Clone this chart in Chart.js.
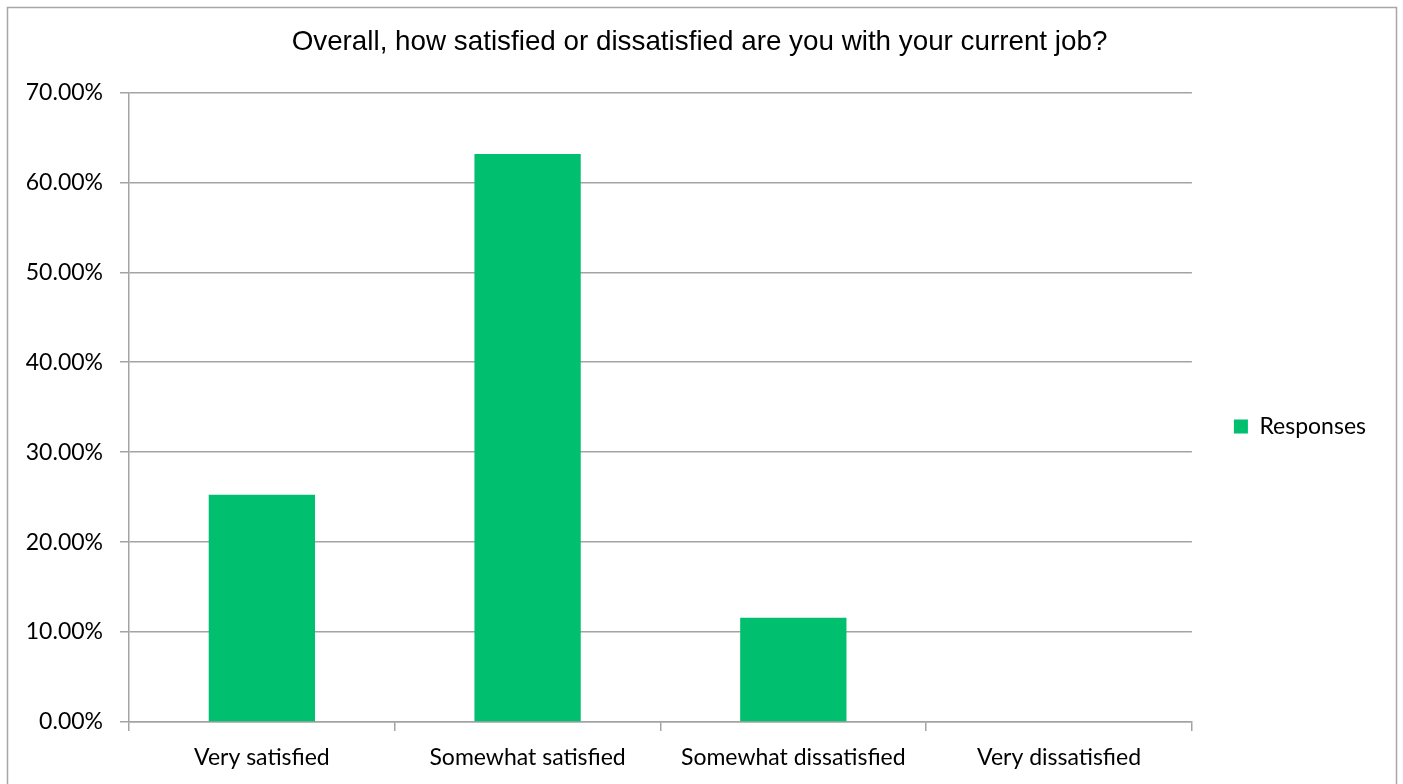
<!DOCTYPE html>
<html>
<head>
<meta charset="utf-8">
<script src="https://cdn.jsdelivr.net/npm/chart.js@4"></script>
<style>
  html, body { margin: 0; padding: 0; background: #ffffff; }
  #wrap { width: 1403px; height: 784px; position: relative; }
  canvas { display: block; }
</style>
</head>
<body>
<div id="wrap"><canvas id="chart" width="1403" height="784"></canvas></div>
<script>
// Survey question and answer categories
const chartTitle = 'Overall, how satisfied or dissatisfied are you with your current job?';
const categories = ['Very satisfied', 'Somewhat satisfied', 'Somewhat dissatisfied', 'Very dissatisfied'];
const seriesName = 'Responses';
// Share of responses, in percent
const responses = [25.26, 63.16, 11.58, 0];
// Value axis labels, one per 10% step
const yTickLabels = ['0.00%', '10.00%', '20.00%', '30.00%', '40.00%', '50.00%', '60.00%', '70.00%'];

const GRID = '#a3a3a3';
const BAR = '#00bf6f';
const BODY_FONT = 'Lato, "Open Sans", sans-serif';
const TITLE_FONT = '"Liberation Sans", Arial, sans-serif';

// White page with the thin grey outline around the whole chart
const framePlugin = {
  id: 'frame',
  beforeDraw(chart) {
    const ctx = chart.ctx;
    ctx.save();
    ctx.fillStyle = '#ffffff';
    ctx.fillRect(0, 0, chart.width, chart.height);
    ctx.strokeStyle = '#a6a6a6';
    ctx.lineWidth = 1.5;
    ctx.strokeRect(7.5, 7.5, 1389, 820);
    ctx.restore();
  }
};

new Chart(document.getElementById('chart'), {
  type: 'bar',
  data: {
    labels: categories,
    datasets: [{
      label: seriesName,
      data: responses,
      backgroundColor: BAR,
      borderWidth: 0,
      barPercentage: 0.4,
      categoryPercentage: 1.0
    }]
  },
  options: {
    responsive: false,
    animation: false,
    devicePixelRatio: 1,
    layout: { padding: { top: 0, left: 23, right: 27, bottom: 0 } },
    plugins: {
      title: {
        display: true,
        text: chartTitle,
        color: '#000000',
        font: { family: TITLE_FONT, size: 27.8, weight: 'normal', lineHeight: 1.2 },
        padding: { top: 26, bottom: 33 }
      },
      legend: {
        display: true,
        position: 'right',
        align: 'center',
        title: {
          display: true,
          text: ' ',
          font: { size: 10, lineHeight: 1.2 },
          padding: { top: 0, bottom: 57 }
        },
        labels: {
          boxWidth: 14,
          boxHeight: 14,
          padding: 42,
          color: '#000000',
          font: { family: BODY_FONT, size: 23 }
        }
      },
      tooltip: { enabled: false }
    },
    scales: {
      x: {
        grid: {
          display: true,
          drawOnChartArea: false,
          drawTicks: true,
          tickLength: 9,
          offset: true,
          color: GRID,
          lineWidth: 1.5
        },
        border: { display: true, color: GRID, width: 1.5 },
        ticks: {
          color: '#000000',
          font: { family: BODY_FONT, size: 23 },
          padding: 13,
          maxRotation: 0,
          autoSkip: false
        },
        afterFit(scale) { scale.height = 62; }
      },
      y: {
        min: 0,
        max: 70,
        grid: {
          color: GRID,
          lineWidth: 1.5,
          tickLength: 9,
          drawTicks: true
        },
        border: { display: true, color: GRID, width: 1.5 },
        ticks: {
          stepSize: 10,
          color: '#000000',
          font: { family: BODY_FONT, size: 23 },
          padding: 17,
          callback: (value) => yTickLabels[Math.round(value / 10)]
        },
        afterFit(scale) { scale.width = 106; }
      }
    }
  },
  plugins: [framePlugin]
});
</script>
</body>
</html>
